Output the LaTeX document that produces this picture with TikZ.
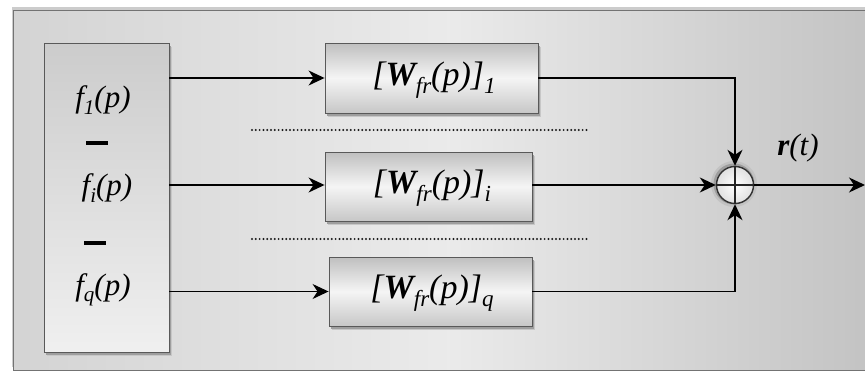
\documentclass[tikz,border=0pt]{standalone}
\usepackage{fontspec}
\setmainfont{Liberation Serif}
\usetikzlibrary{arrows.meta,calc}
\newcommand\lowsub[1]{\raisebox{-0.45ex}{\fontsize{21}{21}\selectfont #1}}
\newcommand\lowsubb[1]{\raisebox{-0.5ex}{\fontsize{23}{23}\selectfont #1}}
\tikzset{
  softshadow/.style={
    preaction={fill=black!22, draw=none, transform canvas={xshift=2.5pt,yshift=-4pt}},
    preaction={fill=black!38, draw=none, transform canvas={xshift=1.5pt,yshift=-2.5pt}}},
  blockbox/.style={softshadow, draw=black!65, line width=0.9pt, top color=black!25, bottom color=black!22, middle color=black!4},
  lab/.style={font=\rmfamily\fontsize{31}{33}\selectfont\itshape, inner sep=0pt},
  blab/.style={font=\rmfamily\fontsize{34}{36}\selectfont\itshape, inner sep=0pt},
  conn/.style={line width=1.5pt, black},
  arr/.style={conn, -{Stealth[length=16pt,width=15pt,inset=5pt]}},
  dotline/.style={line width=2.2pt, dash pattern=on 0pt off 3.8pt, line cap=round, black!90},
  bar/.style={line width=3.5pt, black}
}
\begin{document}
\begin{tikzpicture}[x=1pt,y=-1pt]
\useasboundingbox (0,0) rectangle (865,372);
% frame
\fill[white] (0,0) rectangle (865,372);
\node[draw=black!55, line width=1.2pt, left color=black!17, right color=black!24, middle color=black!8,
  minimum width=870pt, minimum height=360pt, anchor=north west, inner sep=0pt,
  preaction={fill=black!20, draw=none, transform canvas={xshift=-2pt,yshift=4pt}}] (frame) at (13,10) {};
% left box
\node[blockbox, left color=black!10, right color=black!10, top color=black!20, bottom color=black!6,
  minimum width=125pt, minimum height=309pt, inner sep=0pt] (L) at (106.5,197.5) {};
\node[lab] (f1) at (103,100) {f\lowsub{1}(p)};
\node[lab] (fi) at (107,188) {f\lowsub{i}(p)};
\node[lab] (fq) at (103,290) {f\lowsub{q}(p)};
\coordinate (d1a) at (86,143); \coordinate (d1b) at (108,143);
\coordinate (d2a) at (84,243); \coordinate (d2b) at (106,243);
\draw[bar] (d1a) -- (d1b);
\draw[bar] (d2a) -- (d2b);
% blocks
\node[blockbox, minimum width=213pt, minimum height=70pt, inner sep=0pt] (B1) at (431.5,78) {};
\node[blockbox, minimum width=207pt, minimum height=69pt, inner sep=0pt] (B2) at (428.5,186.5) {};
\node[blockbox, minimum width=203pt, minimum height=69pt, inner sep=0pt] (B3) at (430.5,291.5) {};
\node[blab] (t1) at (434,80) {[\textbf{W}\lowsubb{fr}(p)]\lowsubb{1}};
\node[blab] (t2) at (432,188) {[\textbf{W}\lowsubb{fr}(p)]\lowsubb{i}};
\node[blab] (t3) at (432,293) {[\textbf{W}\lowsubb{fr}(p)]\lowsubb{q}};
% dotted separators
\coordinate (s1a) at (252,130); \coordinate (s1b) at (590,130);
\coordinate (s2a) at (252,239); \coordinate (s2b) at (590,239);
\draw[dotline] (s1a) -- (s1b);
\draw[dotline] (s2a) -- (s2b);
% summing junction
\coordinate (Sc) at (735,185);
\fill[black!24] ($(Sc)+(-1,-1)$) circle (23pt);
\fill[black!38] ($(Sc)+(-1,-1)$) circle (20.5pt);
\node[circle, draw=black!80, line width=1.4pt, minimum size=37pt, inner sep=0pt, inner color=white, outer color=black!12] (S) at (Sc) {};
\draw[line width=1.2pt, black!85] (S.north) -- (S.south) (S.west) -- (S.east);
\coordinate (out) at (865,185);
\node[lab] (r) at (798,148) {\textbf{r}(t)};
% connectors
\draw[arr] (L.east |- B1.west) -- (B1.west);
\draw[arr] (L.east |- S.west) -- (B2.west |- S.west);
\draw[arr] (L.east |- B3.west) -- (B3.west);
\draw[arr] (B1.east) -| (S.north);
\draw[arr] (B2.east |- S.west) -- (S.west);
\draw[arr] (B3.east) -| (S.south);
\draw[arr] (S.east) -- (out);
\end{tikzpicture}
\end{document}
